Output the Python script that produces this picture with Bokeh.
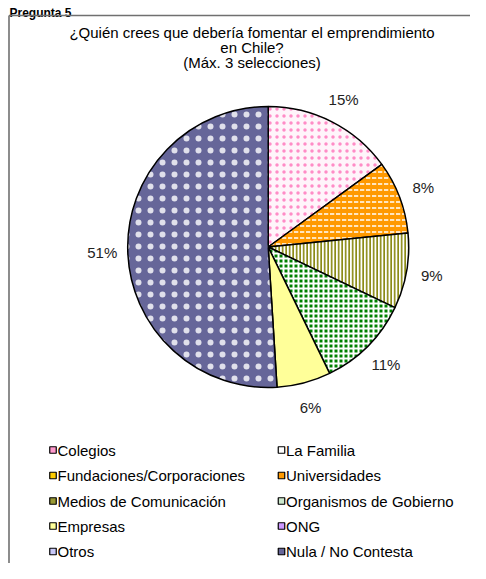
import math
from bokeh.plotting import figure
from bokeh.models import Range1d
from bokeh.core.properties import value
from bokeh.embed import file_html
from bokeh.resources import INLINE

# ---------------- data ----------------
header = "Pregunta 5"
title_lines = ["¿Quién crees que debería fomentar el emprendimiento", "en Chile?", "(Máx. 3 selecciones)"]
categories = ["Colegios", "La Familia", "Fundaciones/Corporaciones", "Universidades",
              "Medios de Comunicación", "Organismos de Gobierno", "Empresas", "ONG",
              "Otros", "Nula / No Contesta"]
values = [15.0, 0.0, 0.0, 8.4, 8.7, 10.7, 6.2, 0.0, 0.0, 51.0]
fill_colors = ["#FFF4FA", "#FFFFFF", "#FFCC00", "#FF9900", "#FFFFFF", "#008000",
               "#FFFF99", "#CC99FF", "#9999FF", "#666699"]
hatch_patterns = ["dot", " ", " ", "horizontal_dash", "vertical_line", "cross",
                  " ", " ", " ", "dot"]
hatch_colors = ["#FF8CC6", "#FFFFFF", "#FFFFFF", "#FFFFFF", "#8A8A14", "#FFFFFF",
                "#FFFFFF", "#FFFFFF", "#FFFFFF", "#FFFFFF"]
hatch_scales = [7, 1, 1, 6, 3.5, 5, 1, 1, 1, 12]
hatch_weights = [3.5, 1, 1, 1.5, 1.8, 2, 1, 1, 1, 0.1]
hatch_alphas = [1.0, 1.0, 1.0, 1.0, 1.0, 1.0, 1.0, 1.0, 1.0, 0.8]
legend_colors = ["#FF99CC", "#FFFFFF", "#FFCC00", "#FF9900", "#999933", "#CCE8CC",
                 "#FFFF99", "#CC99FF", "#C8C8F8", "#666699"]

# ---------------- layout ----------------
W, H = 470, 563
PH = 579
def Y(py):
    return PH - py

p = figure(width=W, height=H, output_backend="svg", toolbar_location=None,
           x_range=Range1d(0, W), y_range=Range1d(Y(H), Y(0)),
           min_border=0, outline_line_color=None)
p.axis.visible = False
p.grid.visible = False
p.background_fill_color = "white"
p.border_fill_color = "white"

FONT = value("Liberation Sans")

# header
p.text(x=[9], y=[Y(12.5)], text=[header], text_font=FONT, text_font_size="12px",
       text_font_style="bold", text_align="left", text_baseline="alphabetic",
       text_color="black")

# frame lines
p.segment(x0=[8.5, 8.5], y0=[Y(15), Y(15)], x1=[8.5, W], y1=[Y(H), Y(15)],
          line_color="#707070", line_width=1.6)

# title
p.text(x=[251.5] * 3, y=[Y(31.5), Y(46.5), Y(61.5)], text=title_lines,
       text_font=FONT, text_font_size="15px", text_align="center",
       text_baseline="middle", text_color="black")

# pie
cx, cy, r = 267.7, Y(246.5), 140.5
total = sum(values)
starts, ends, mids = [], [], []
acc = 0.0
for v in values:
    a0 = acc / total * 2 * math.pi
    acc += v
    a1 = acc / total * 2 * math.pi
    starts.append(math.pi / 2 - a0)
    ends.append(math.pi / 2 - a1)
    mids.append(math.pi / 2 - (a0 + a1) / 2)

idx = [i for i, v in enumerate(values) if v > 0]
for i in idx:
    kw = {}
    if hatch_patterns[i].strip():
        kw = dict(hatch_pattern=hatch_patterns[i], hatch_color=hatch_colors[i],
                  hatch_scale=hatch_scales[i], hatch_weight=hatch_weights[i],
                  hatch_alpha=hatch_alphas[i])
    p.wedge(x=[cx], y=[cy], radius=r, start_angle=[starts[i]], end_angle=[ends[i]],
            direction="clock", fill_color=fill_colors[i],
            line_color="black", line_width=1.5, **kw)

# labels
lr = 166
lx = [cx + lr * math.cos(mids[i]) for i in idx]
ly = [cy + lr * math.sin(mids[i]) for i in idx]
lt = ["%d%%" % round(values[i]) for i in idx]
p.text(x=lx, y=ly, text=lt, text_font=FONT, text_font_size="15px",
       text_align="center", text_baseline="middle", text_color="#222222")

# legend
col_x = [52.5, 281]
row_y = [449.5, 475, 500.5, 525.5, 551]
sx, sy, tx = [], [], []
for i, c in enumerate(categories):
    col, row = i % 2, i // 2
    sx.append(col_x[col])
    sy.append(Y(row_y[row]))
    tx.append(col_x[col] + 4.5)
p.rect(x=sx, y=sy, width=6.5, height=6.5, fill_color=legend_colors,
       line_color="black", line_width=1.2)
p.text(x=tx, y=sy, text=categories, text_font=FONT, text_font_size="15px",
       text_align="left", text_baseline="middle", text_color="black")

open("out.html", "w").write(file_html(p, INLINE))
